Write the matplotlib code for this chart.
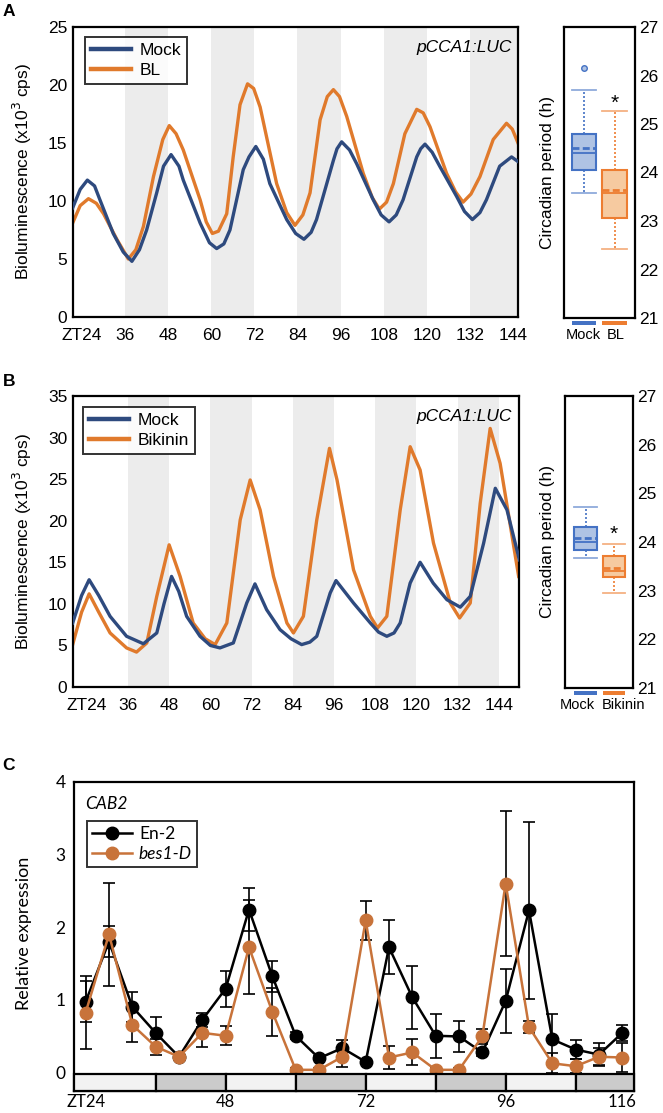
import matplotlib
matplotlib.use("Agg")
import matplotlib.pyplot as plt
import matplotlib.transforms as mtransforms
from matplotlib.patches import Rectangle
from matplotlib.lines import Line2D

plt.rcParams["font.family"] = ["Liberation Sans", "DejaVu Sans"]

MOCK = "#2e4a7e"
TREAT = "#e07a2c"
BOX_BLUE, BOX_BLUE_FILL = "#4472c4", "#afc3e4"
BOX_ORANGE, BOX_ORANGE_FILL = "#ed7d31", "#f6caa0"
SHADE = "#ececec"
BES = "#c8733a"

# ---------------- panel A: luciferase traces (Mock vs BL)
a_mock_t = [21.4, 23.5, 25.5, 27.5, 29.0, 32.7, 35.5, 37.9, 40.0, 42.0, 44.8, 46.7, 48.8,
            51.0, 52.2, 56.9, 59.5, 61.5, 63.5, 65.2, 68.9, 70.5, 72.4, 74.5, 76.3, 81.0,
            83.5, 85.8, 87.8, 89.3, 94.0, 95.0, 96.3, 98.5, 100.5, 105.1, 107.3, 109.5,
            111.5, 113.4, 117.2, 118.3, 119.5, 121.5, 123.6, 128.3, 130.5, 132.7, 134.8,
            136.6, 140.3, 143.6, 145.4]
a_mock_v = [9.4, 11.0, 11.8, 11.3, 10.1, 7.2, 5.6, 4.8, 5.8, 7.5, 10.7, 13.0, 14.0,
            13.0, 11.8, 8.1, 6.4, 5.9, 6.3, 7.5, 12.7, 13.8, 14.7, 13.6, 11.5, 8.4,
            7.2, 6.7, 7.3, 8.4, 13.5, 14.5, 15.1, 14.4, 13.2, 10.1, 8.8, 8.2,
            8.8, 10.1, 13.8, 14.5, 14.9, 14.2, 13.0, 10.4, 9.1, 8.4, 9.0,
            10.1, 13.0, 13.8, 13.4]
a_bl_t = [21.4, 23.5, 25.8, 28.0, 30.0, 33.7, 36.9, 39.0, 41.1, 43.9, 46.5, 48.3, 50.2,
          52.2, 56.9, 58.6, 60.3, 62.0, 64.3, 66.1, 68.0, 70.1, 71.8, 73.6, 78.2, 81.0,
          83.3, 85.5, 87.5, 90.3, 92.3, 94.0, 95.7, 97.7, 102.3, 104.8, 106.8, 108.8,
          110.7, 113.9, 117.2, 119.0, 120.9, 125.5, 128.0, 130.1, 132.3, 134.8, 138.5,
          142.2, 143.8, 145.4]
a_bl_v = [8.1, 9.6, 10.2, 9.8, 8.9, 6.7, 5.0, 5.8, 7.8, 12.1, 15.3, 16.5, 15.8,
          14.4, 10.1, 8.2, 7.2, 7.4, 8.9, 13.8, 18.3, 20.1, 19.7, 18.1, 11.5, 9.0,
          7.9, 8.8, 10.7, 17.0, 19.0, 19.6, 19.0, 17.3, 12.4, 10.3, 9.3, 9.9,
          11.5, 15.8, 17.9, 17.6, 16.4, 12.4, 10.8, 9.9, 10.6, 12.1, 15.3,
          16.7, 16.2, 15.0]
a_labels = ["Mock", "BL"]

# panel A: period box plot
a_box_q1 = [24.05, 23.07]
a_box_q3 = [24.79, 24.05]
a_box_med = [24.40, 23.57]
a_box_mean = [24.50, 23.63]
a_box_lo = [23.57, 22.43]
a_box_hi = [25.70, 25.27]
a_box_out = [[26.16], []]

# ---------------- panel B: luciferase traces (Mock vs Bikinin)
b_mock_t = [19.9, 22.5, 24.7, 27.5, 30.8, 35.6, 40.5, 44.4, 46.5, 48.7, 50.8, 53.1, 57.0,
            60.0, 62.8, 66.7, 70.6, 73.0, 76.4, 80.3, 83.5, 86.6, 89.0, 91.0, 94.9, 96.6,
            101.7, 106.6, 109.0, 111.4, 113.5, 115.3, 118.2, 121.1, 124.9, 128.9, 132.8,
            135.7, 139.6, 143.0, 146.4, 150.0]
b_mock_v = [7.7, 11.0, 12.9, 11.0, 8.5, 6.1, 5.2, 6.5, 10.0, 13.3, 11.5, 8.5, 6.1,
            5.0, 4.7, 5.3, 10.1, 12.4, 9.3, 6.9, 5.8, 5.1, 5.4, 6.1, 11.3, 12.8,
            10.1, 7.7, 6.6, 6.1, 6.5, 7.7, 12.5, 15.0, 12.5, 10.5, 9.6,
            10.9, 17.3, 23.9, 21.3, 15.3]
b_bik_t = [19.9, 22.5, 24.7, 27.5, 30.8, 35.6, 38.5, 41.5, 44.4, 48.0, 51.2, 55.0, 58.5,
           61.4, 64.8, 68.7, 71.6, 74.5, 78.4, 82.3, 84.2, 87.1, 91.0, 94.7, 96.9, 101.7,
           106.6, 108.7, 111.4, 115.3, 118.2, 121.1, 125.0, 129.9, 132.6, 135.7, 138.6,
           141.5, 144.4, 149.8]
b_bik_v = [5.1, 9.0, 11.2, 9.0, 6.5, 4.7, 4.2, 5.3, 10.9, 17.1, 13.3, 7.7, 5.8,
           5.1, 7.7, 20.1, 24.9, 21.3, 13.3, 7.7, 6.5, 8.5, 20.1, 28.7, 24.9, 14.1,
           8.5, 7.1, 8.5, 21.3, 28.9, 26.1, 17.3, 10.1, 8.3, 10.1, 22.1,
           31.1, 26.9, 13.3]
b_labels = ["Mock", "Bikinin"]

b_box_q1 = [23.83, 23.28]
b_box_q3 = [24.30, 23.72]
b_box_med = [24.00, 23.40]
b_box_mean = [24.08, 23.46]
b_box_lo = [23.67, 22.95]
b_box_hi = [24.71, 23.96]
b_box_out = [[], []]

hour_ticks = [24, 36, 48, 60, 72, 84, 96, 108, 120, 132, 144]
hour_labels = ["ZT24", "36", "48", "60", "72", "84", "96", "108", "120", "132", "144"]

# ---------------- panel C: CAB2 qPCR
c_time = [24, 28, 32, 36, 40, 44, 48, 52, 56, 60, 64, 68, 72, 76, 80, 84, 88, 92,
          96, 100, 104, 108, 112, 116]
c_en2 = [0.97, 1.80, 0.90, 0.54, 0.21, 0.72, 1.15, 2.24, 1.32, 0.50, 0.19, 0.33,
         0.14, 1.72, 1.03, 0.50, 0.49, 0.27, 0.98, 2.23, 0.45, 0.31, 0.24, 0.54]
c_en2_err = [0.28, 0.21, 0.21, 0.22, 0.03, 0.10, 0.25, 0.30, 0.21, 0.05, 0.03, 0.11,
             0.03, 0.37, 0.43, 0.30, 0.22, 0.05, 0.44, 1.22, 0.35, 0.13, 0.16, 0.11]
c_bes = [0.82, 1.90, 0.65, 0.35, 0.21, 0.54, 0.50, 1.72, 0.83, 0.03, 0.03, 0.21,
         2.09, 0.20, 0.27, 0.03, 0.03, 0.49, 2.60, 0.62, 0.12, 0.08, 0.21, 0.20]
c_bes_err = [0.50, 0.71, 0.24, 0.11, 0.03, 0.20, 0.13, 0.65, 0.33, 0.02, 0.02, 0.14,
             0.27, 0.16, 0.18, 0.02, 0.02, 0.10, 1.00, 0.08, 0.14, 0.10, 0.12, 0.20]
c_bar_edges = [22, 36, 48, 60, 72, 84, 96, 108, 118]
c_ticks = [24, 48, 72, 96, 116]
c_tick_labels = ["ZT24", "48", "72", "96", "116"]

FS = 12.5


def style_frame(ax):
    for s in ax.spines.values():
        s.set_linewidth(1.6)
        s.set_color("black")
    ax.tick_params(length=0, labelsize=FS)


def trace_panel(ax, t1, v1, t2, v2, labels, ymax, xlim, bands, legend_xy):
    for b0, b1 in bands:
        ax.axvspan(b0, b1, color=SHADE, lw=0, zorder=0)
    ax.plot(t1, v1, color=MOCK, lw=2.4, zorder=3, label=labels[0])
    ax.plot(t2, v2, color=TREAT, lw=2.4, zorder=2, label=labels[1])
    ax.set_xlim(*xlim)
    ax.set_ylim(0, ymax)
    ax.set_yticks(range(0, ymax + 1, 5))
    ax.set_xticks(hour_ticks, hour_labels)
    style_frame(ax)
    ax.tick_params(axis="x", pad=8)
    ax.tick_params(axis="y", pad=4)
    ax.set_ylabel("Bioluminescence (x10$^3$ cps)", fontsize=FS)
    ax.yaxis.set_label_coords(-0.088, 0.5)
    h, l = ax.get_legend_handles_labels()
    leg = ax.legend([h[0], h[1]], l, loc="upper left", bbox_to_anchor=legend_xy,
                    borderaxespad=0, fancybox=False, edgecolor="black", fontsize=FS,
                    handlelength=2.3, handletextpad=0.5, borderpad=0.35, labelspacing=0.25)
    leg.get_frame().set_linewidth(1.4)
    for ln in leg.get_lines():
        ln.set_linewidth(3.2)
    ax.text(0.985, 0.93, "pCCA1:LUC", transform=ax.transAxes, ha="right", va="center",
            fontsize=FS, style="italic")


def box_panel(ax, labels, q1, q3, med, mean, lo, hi, out, star_y, xlim, label_x):
    stats = []
    for i in range(2):
        stats.append(dict(label=labels[i], q1=q1[i], q3=q3[i], med=med[i], mean=mean[i],
                          whislo=lo[i], whishi=hi[i], fliers=out[i]))
    bp = ax.bxp(stats, positions=[1, 2], widths=0.8, patch_artist=True, showmeans=True,
                meanline=True, showfliers=True, capwidths=0.8)
    edges = [BOX_BLUE, BOX_ORANGE]
    fills = [BOX_BLUE_FILL, BOX_ORANGE_FILL]
    for i in range(2):
        bp["boxes"][i].set_facecolor(fills[i])
        bp["boxes"][i].set_edgecolor(edges[i])
        bp["boxes"][i].set_linewidth(1.5)
        bp["medians"][i].set_color(edges[i])
        bp["medians"][i].set_linewidth(1.3)
        bp["means"][i].set_color(edges[i])
        bp["means"][i].set_linestyle((0, (2.5, 1.2)))
        bp["means"][i].set_linewidth(2.0)
        for w in bp["whiskers"][2 * i:2 * i + 2]:
            w.set_color(edges[i])
            w.set_linestyle((0, (1.2, 1.2)))
            w.set_linewidth(1.2)
        for c in bp["caps"][2 * i:2 * i + 2]:
            c.set_color(edges[i])
            c.set_alpha(0.6)
            c.set_linewidth(1.3)
        bp["fliers"][i].set_marker("o")
        bp["fliers"][i].set_markersize(4)
        bp["fliers"][i].set_markerfacecolor(fills[i])
        bp["fliers"][i].set_markeredgecolor(edges[i])
    trans = mtransforms.blended_transform_factory(ax.transData, ax.transAxes)
    for i in range(2):
        ax.add_patch(Rectangle((i + 1 - 0.4, -0.024), 0.8, 0.015, transform=trans,
                               color=edges[i], clip_on=False, lw=0))
        ax.text(label_x[i], -0.058, labels[i], transform=trans, ha="center", va="center",
                fontsize=10.5)
    ax.text(2, star_y, "*", ha="center", va="center", fontsize=15)
    ax.set_xlim(*xlim)
    ax.set_ylim(21, 27)
    ax.set_yticks(range(21, 28))
    ax.set_xticks([])
    ax.yaxis.tick_right()
    style_frame(ax)
    ax.tick_params(axis="y", pad=3)
    ax.set_ylabel("Circadian period (h)", fontsize=FS)
    ax.yaxis.set_label_position("left")


fig = plt.figure(figsize=(6.63, 11.13), dpi=100)
W, H = 663.0, 1113.0


def add_ax(x0, y0, x1, y1):
    return fig.add_axes([x0 / W, 1 - y1 / H, (x1 - x0) / W, (y1 - y0) / H])


axA = add_ax(73, 27, 518, 317)
trace_panel(axA, a_mock_t, a_mock_v, a_bl_t, a_bl_v, a_labels, 25, (21.5, 145.4),
            [(36, 48), (60, 72), (84, 96), (108, 120), (132, 146)], (0.027, 0.966))
axAb = add_ax(564, 27, 635, 318)
box_panel(axAb, a_labels, a_box_q1, a_box_q3, a_box_med, a_box_mean, a_box_lo, a_box_hi,
          a_box_out, 25.42, (0.34, 2.67), (0.97, 2.02))
axAb.yaxis.set_label_coords(-0.127, 0.5)

axB = add_ax(73, 396, 519, 687)
trace_panel(axB, b_mock_t, b_mock_v, b_bik_t, b_bik_v, b_labels, 35, (20.0, 149.9),
            [(36, 48), (60, 72), (84, 96), (108, 120), (132, 144)], (0.022, 0.962))
axBb = add_ax(565, 396, 633, 688)
box_panel(axBb, b_labels, b_box_q1, b_box_q3, b_box_med, b_box_mean, b_box_lo, b_box_hi,
          b_box_out, 24.15, (0.27, 2.67), (0.69, 2.32))
axBb.yaxis.set_label_coords(-0.147, 0.5)

# panel C
axC = add_ax(74, 782, 634, 1091)
cfont = ["Lato", "Liberation Sans"]
axC.errorbar(c_time, c_en2, yerr=c_en2_err, fmt="none", ecolor="black", elinewidth=1.2,
             capsize=4, capthick=1.2, zorder=2)
axC.errorbar(c_time, c_bes, yerr=c_bes_err, fmt="none", ecolor="black", elinewidth=1.2,
             capsize=4, capthick=1.2, zorder=2)
axC.plot(c_time, c_en2, "-o", color="black", lw=1.8, ms=9, zorder=3)
axC.plot(c_time, c_bes, "-o", color=BES, lw=1.8, ms=9, zorder=4)
for i in range(len(c_bar_edges) - 1):
    fc = "#f2f2f2" if i % 2 == 0 else "#cbcbcb"
    axC.add_patch(Rectangle((c_bar_edges[i], -0.262), c_bar_edges[i + 1] - c_bar_edges[i],
                            0.235, facecolor=fc, edgecolor="black", lw=1.6, zorder=5,
                            clip_on=False))
axC.set_xlim(22, 118)
axC.set_ylim(-0.262, 4)
axC.set_yticks([0, 1, 2, 3, 4])
axC.set_xticks(c_ticks, c_tick_labels)
style_frame(axC)
axC.tick_params(axis="x", pad=2, labelsize=12)
axC.tick_params(axis="y", pad=6)
for t in axC.get_xticklabels() + axC.get_yticklabels():
    t.set_family(cfont)
axC.set_ylabel("Relative expression", fontsize=FS + 0.5, family=cfont)
axC.yaxis.set_label_coords(-0.075, 0.51)
axC.text(0.02, 0.93, "CAB2", transform=axC.transAxes, ha="left", va="center",
         fontsize=FS, style="italic", family=cfont)
hC = [Line2D([], [], color="black", marker="o", ms=9, lw=1.8),
      Line2D([], [], color=BES, marker="o", ms=9, lw=1.8)]
legC = axC.legend(hC, ["En-2", "bes1-D"], loc="upper left", bbox_to_anchor=(0.023, 0.874),
                  borderaxespad=0, fancybox=False, edgecolor="black",
                  prop={"family": cfont, "size": FS}, handlelength=2.3, handletextpad=0.4,
                  borderpad=0.3, labelspacing=0.2)
legC.get_frame().set_linewidth(1.4)
legC.get_texts()[1].set_style("italic")

for lab, y in (("A", 12), ("B", 381), ("C", 765)):
    fig.text(0.004, 1 - y / H, lab, fontsize=12.5, fontweight="bold", va="center", ha="left")

fig.savefig("out.png", dpi=100)
